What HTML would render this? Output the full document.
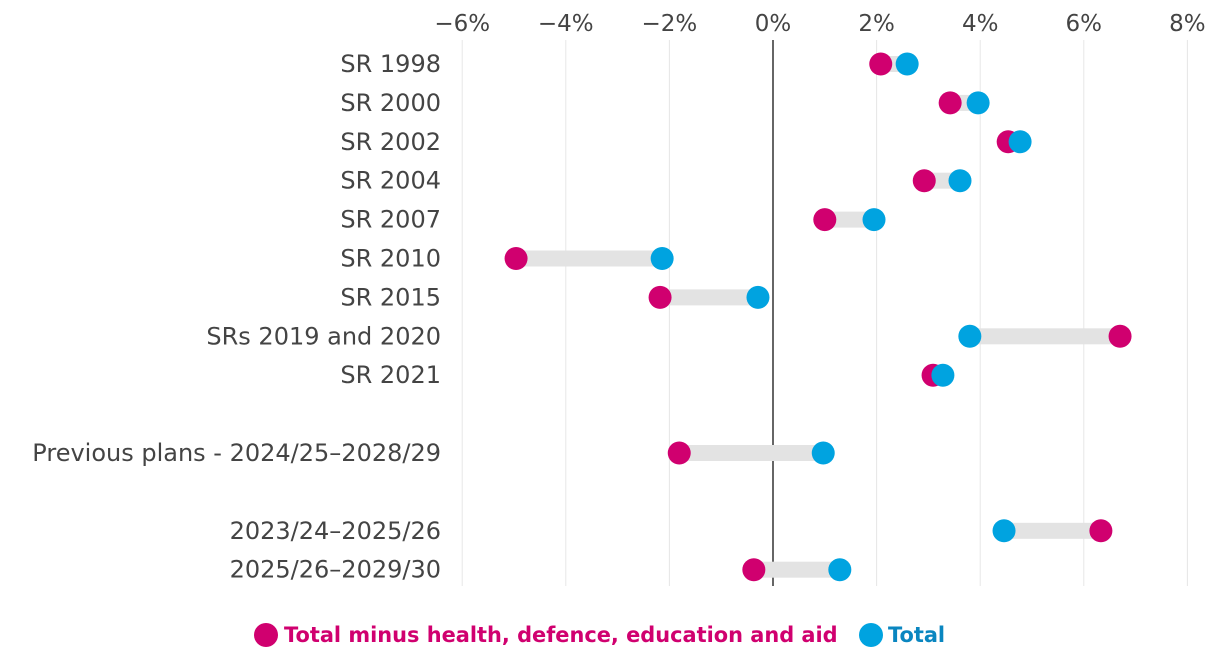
<!DOCTYPE html>
<html><head><meta charset="utf-8"><style>
html,body{margin:0;padding:0;background:#fff;}
svg{display:block;font-family:"DejaVu Sans","Liberation Sans",sans-serif;}
</style></head><body>
<svg id="chart" width="1220" height="668" viewBox="0 0 1220 668">
<g id="grid"></g>
<g id="ticks"></g>
<g id="rows"></g>
<g>
  <circle cx="266" cy="635" r="12" fill="#d0006f"/>
  <text x="284" y="642" font-size="20.9" font-weight="bold" fill="#d0006f">Total minus health, defence, education and aid</text>
  <circle cx="871" cy="635" r="12" fill="#00a3e0"/>
  <text x="888" y="642" font-size="20.9" font-weight="bold" fill="#0a86c0">Total</text>
</g>
</svg>
<script>
const categories=["SR 1998","SR 2000","SR 2002","SR 2004","SR 2007","SR 2010","SR 2015","SRs 2019 and 2020","SR 2021","Previous plans - 2024/25\u20132028/29","2023/24\u20132025/26","2025/26\u20132029/30"];
const totalMinus=[2.08,3.42,4.54,2.92,1.0,-4.96,-2.18,6.7,3.09,-1.81,6.33,-0.37];
const total=[2.59,3.96,4.77,3.61,1.95,-2.14,-0.29,3.8,3.28,0.97,4.46,1.29];
const tickValues=[-6,-4,-2,0,2,4,6,8];
const rowSlots=[0,1,2,3,4,5,6,7,8,10,12,13];

const NS="http://www.w3.org/2000/svg";
function x(v){return 773+v*51.8;}
function y(slot){return 64+slot*38.9;}
function mk(tag,attrs,parent){const e=document.createElementNS(NS,tag);for(const k in attrs)e.setAttribute(k,attrs[k]);parent.appendChild(e);return e;}
const grid=document.getElementById('grid'),ticks=document.getElementById('ticks'),rows=document.getElementById('rows');
tickValues.forEach(t=>{
  const l=mk('line',{x1:x(t),x2:x(t),y1:40,y2:586,stroke:t===0?'#333':'#e6e6e6','stroke-width':t===0?1.5:1},grid);
  
  
  const tx=mk('text',{x:x(t),y:31,'text-anchor':'middle','font-size':23,fill:'#444'},ticks);
  tx.textContent=(t<0?'\u2212'+(-t):t)+'%';
  
  
});
categories.forEach((c,i)=>{
  const yy=y(rowSlots[i]);
  const lab=mk('text',{x:441,y:yy+8,'text-anchor':'end','font-size':24,fill:'#444'},rows);
  lab.textContent=c;
  
  
  const a=x(totalMinus[i]),b=x(total[i]);
  const bar=mk('rect',{x:Math.min(a,b),y:yy-8,width:Math.abs(a-b),height:16,fill:'#e3e3e3'},rows);
  
  
  const p=mk('circle',{cx:a,cy:yy,r:11.5,fill:'#d0006f'},rows);
  
  
  const q=mk('circle',{cx:b,cy:yy,r:11.5,fill:'#00a3e0'},rows);
  
  
});
</script>
</body></html>
